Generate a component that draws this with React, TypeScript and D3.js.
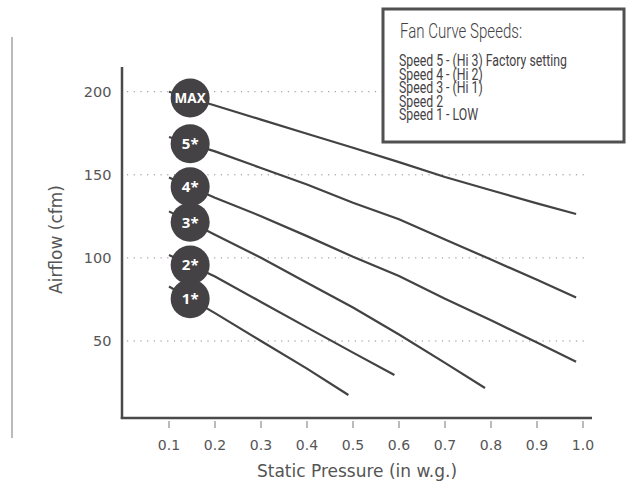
import React, { useLayoutEffect, useRef, useState } from "react";
import * as d3 from "d3";

// ---------- data ----------
const xTicks = [0.1, 0.2, 0.3, 0.4, 0.5, 0.6, 0.7, 0.8, 0.9, 1.0];
const yTicks = [50, 100, 150, 200];

const pressureMax = [0.1, 0.2, 0.3, 0.4, 0.5, 0.6, 0.7, 0.8, 0.9, 0.985];
const airflowMax = [200, 191.7, 183.2, 174.7, 166.3, 157.6, 148.7, 140.7, 132.8, 126.4];

const pressure5 = [0.1, 0.2, 0.3, 0.4, 0.5, 0.6, 0.7, 0.8, 0.9, 0.985];
const airflow5 = [172.7, 164.1, 154.1, 144.2, 133.2, 123.3, 111.1, 99.0, 86.8, 76.2];

const pressure4 = [0.1, 0.2, 0.3, 0.4, 0.5, 0.6, 0.7, 0.8, 0.9, 0.985];
const airflow4 = [148.4, 136.2, 125.1, 113.1, 100.7, 89.1, 75.4, 62.5, 49.1, 37.5];

const pressure3 = [0.1, 0.2, 0.3, 0.4, 0.5, 0.6, 0.7, 0.787];
const airflow3 = [128, 113.9, 100.1, 85.1, 70.2, 53.9, 36.8, 21.7];

const pressure2 = [0.1, 0.2, 0.3, 0.4, 0.5, 0.59];
const airflow2 = [101.7, 88.8, 73.5, 58.2, 43, 29.5];

const pressure1 = [0.1, 0.2, 0.3, 0.4, 0.49];
const airflow1 = [82.8, 66.8, 50, 33.4, 17.5];

const seriesLabels = ["MAX", "5*", "4*", "3*", "2*", "1*"];
const markerPressure = 0.146;

const legendTitle = "Fan Curve Speeds:";
const legendItems = [
  "Speed 5 - (Hi 3) Factory setting",
  "Speed 4 - (Hi 2)",
  "Speed 3 - (Hi 1)",
  "Speed 2",
  "Speed 1 - LOW",
];

const xTitle = "Static Pressure (in w.g.)";
const yTitle = "Airflow (cfm)";

// ---------- layout ----------
const W = 626;
const H = 491;
const axisLeft = 122;
const axisRight = 592;
const axisTop = 67;
const axisBottom = 418;

const DARK = "#444244";
const TEXT = "#555";

const fmtX = d3.format(".1f");

export default function App() {
  const x = d3.scaleLinear().domain([0, 1]).range([123, 583]);
  const y = d3.scaleLinear().domain([0, 200]).range([424.1, 91.7]);

  const series = [
    { xs: pressureMax, ys: airflowMax },
    { xs: pressure5, ys: airflow5 },
    { xs: pressure4, ys: airflow4 },
    { xs: pressure3, ys: airflow3 },
    { xs: pressure2, ys: airflow2 },
    { xs: pressure1, ys: airflow1 },
  ];

  const line = d3
    .line<[number, number]>()
    .x((d) => x(d[0]))
    .y((d) => y(d[1]))
    .curve(d3.curveLinear);

  const interp = (xs: number[], ys: number[], v: number) => {
    const i = Math.max(1, d3.bisectLeft(xs, v));
    const t = (v - xs[i - 1]) / (xs[i] - xs[i - 1]);
    return ys[i - 1] + t * (ys[i] - ys[i - 1]);
  };

  const titleRef = useRef<SVGTextElement>(null);
  const itemRef = useRef<SVGTextElement>(null);
  const [titleSx, setTitleSx] = useState(0.7);
  const [itemSx, setItemSx] = useState(0.7);

  useLayoutEffect(() => {
    if (titleRef.current) {
      const w = titleRef.current.getComputedTextLength();
      if (w > 0) setTitleSx(122 / w);
    }
    if (itemRef.current) {
      const w = itemRef.current.getComputedTextLength();
      if (w > 0) setItemSx(168 / w);
    }
  }, []);

  return (
    <svg width={W} height={H} style={{ display: "block", position: "absolute", left: 0, top: 0, background: "#fff" }}>
      {/* left decorative rule */}
      <line x1={12} x2={12} y1={37} y2={438} stroke="#777" strokeWidth={1} />

      {/* gridlines */}
      {yTicks.map((t) => (
        <line
          key={"g" + t}
          x1={127}
          x2={586}
          y1={y(t)}
          y2={y(t)}
          stroke="#8a8a8a"
          strokeWidth={1}
          strokeDasharray="1.2,5.5"
        />
      ))}

      {/* axes */}
      <line x1={axisLeft} x2={axisLeft} y1={axisTop} y2={axisBottom + 1} stroke="#4a4a4a" strokeWidth={2.5} />
      <line x1={axisLeft - 1.2} x2={axisRight} y1={axisBottom} y2={axisBottom} stroke="#4a4a4a" strokeWidth={2.5} />

      {/* x ticks */}
      {xTicks.map((t) => (
        <g key={"x" + t}>
          <line x1={x(t)} x2={x(t)} y1={421} y2={428} stroke="#777" strokeWidth={1} />
          <text
            x={x(t)}
            y={450}
            textAnchor="middle"
            fontFamily="DejaVu Sans"
            fontSize={14}
            fill={TEXT}
          >
            {fmtX(t)}
          </text>
        </g>
      ))}

      {/* y ticks */}
      {yTicks.map((t) => (
        <text
          key={"y" + t}
          x={111.5}
          y={y(t) + 5.3}
          textAnchor="end"
          fontFamily="DejaVu Sans"
          fontSize={14.5}
          fill={TEXT}
        >
          {t}
        </text>
      ))}

      {/* axis titles */}
      <text x={357} y={477} textAnchor="middle" fontFamily="DejaVu Sans" fontSize={17} fill={TEXT}>
        {xTitle}
      </text>
      <text
        transform={`translate(61.5,239.5) rotate(-90)`}
        textAnchor="middle"
        fontFamily="DejaVu Sans"
        fontSize={17}
        fill={TEXT}
      >
        {yTitle}
      </text>

      {/* curves */}
      {series.map((s, i) => (
        <path
          key={"l" + i}
          d={line(s.xs.map((v, j) => [v, s.ys[j]] as [number, number])) || ""}
          fill="none"
          stroke={DARK}
          strokeWidth={2.2}
        />
      ))}

      {/* markers */}
      {series.map((s, i) => {
        const cy = y(interp(s.xs, s.ys, markerPressure));
        const cx = x(markerPressure);
        const isMax = seriesLabels[i] === "MAX";
        return (
          <g key={"m" + i}>
            <circle cx={cx} cy={cy} r={19.5} fill={DARK} />
            <text
              x={cx}
              y={cy + (isMax ? 5 : 5.5)}
              textAnchor="middle"
              fontFamily="Noto Sans"
              fontWeight={700}
              fontSize={isMax ? 13.5 : 15}
              fill="#fff"
            >
              {seriesLabels[i]}
            </text>
          </g>
        );
      })}

      {/* legend */}
      <rect x={383} y={9} width={241} height={133} fill="#fff" stroke="#505050" strokeWidth={3} />
      <text
        ref={titleRef}
        transform={`translate(400,38) scale(${titleSx},1)`}
        fontFamily="Roboto"
        fontWeight={300}
        fontSize={21}
        fill={DARK}
      >
        {legendTitle}
      </text>
      {legendItems.map((s, i) => (
        <text
          key={"li" + i}
          ref={i === 0 ? itemRef : undefined}
          transform={`translate(399,${66 + i * 13.6}) scale(${itemSx},1)`}
          fontFamily="Roboto"
          fontWeight={400}
          fontSize={16.5}
          fill={DARK}
        >
          {s}
        </text>
      ))}
    </svg>
  );
}
